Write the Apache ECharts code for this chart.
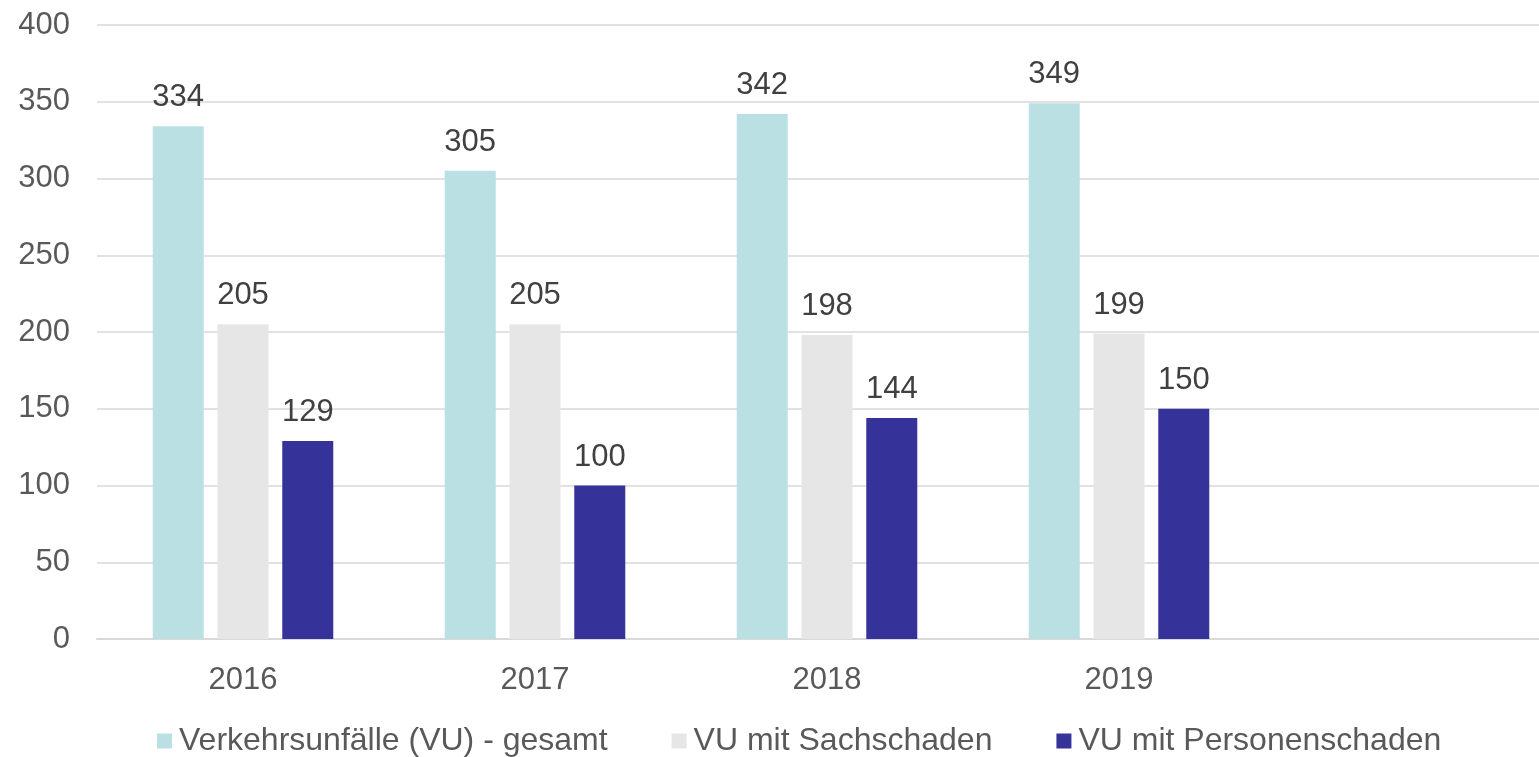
<!DOCTYPE html>
<html>
<head>
<meta charset="utf-8">
<script src="https://cdn.jsdelivr.net/npm/echarts@6/dist/echarts.min.js"></script>
<style>
html, body { margin: 0; padding: 0; background: #fff; }
#chart { width: 1539px; height: 757px; }
</style>
</head>
<body>
<div id="chart"></div>
<script>
// Daten
var jahre = ['2016', '2017', '2018', '2019', ''];
var gesamt = [334, 305, 342, 349, null];
var sachschaden = [205, 205, 198, 199, null];
var personenschaden = [129, 100, 144, 150, null];
var serienNamen = ['Verkehrsunfälle (VU) - gesamt', 'VU mit Sachschaden', 'VU mit Personenschaden'];
var farben = ['#bbe0e3', '#e6e6e6', '#353399'];

var schrift = 'Liberation Sans, Arial, sans-serif';
var chart = echarts.init(document.getElementById('chart'));

function balken(name, daten, farbe) {
    return {
        name: name,
        type: 'bar',
        data: daten,
        barWidth: 51,
        barGap: '27%',
        itemStyle: { color: farbe },
        label: {
            show: true,
            position: 'top',
            distance: 13,
            color: '#404040',
            fontSize: 31,
            fontFamily: schrift
        }
    }
}

chart.setOption({
    animation: false,
    color: farben,
    // das Raster reicht rechts etwas über den Bildrand hinaus
    grid: { left: 97, width: 1460, top: 25, bottom: 118, containLabel: false, outerBoundsMode: 'none' },
    legend: {
        left: 152,
        top: 720,
        itemWidth: 15,
        itemHeight: 15,
        itemGap: 64,
        icon: 'rect',
        textStyle: { fontSize: 32, color: '#595959', fontFamily: schrift, padding: [0, 0, 0, 2] },
        data: serienNamen
    },
    xAxis: {
        type: 'category',
        data: jahre,
        axisLine: { lineStyle: { color: '#d9d9d9', width: 2 } },
        axisTick: { show: false },
        axisLabel: { color: '#595959', fontSize: 31, fontFamily: schrift, margin: 26 }
    },
    yAxis: {
        type: 'value',
        min: 0,
        max: 400,
        interval: 50,
        axisLine: { show: false },
        axisTick: { show: false },
        splitLine: { lineStyle: { color: '#d9d9d9', width: 1.5 } },
        axisLabel: { color: '#595959', fontSize: 31, fontFamily: schrift, margin: 27 }
    },
    series: [
        balken(serienNamen[0], gesamt, farben[0]),
        balken(serienNamen[1], sachschaden, farben[1]),
        balken(serienNamen[2], personenschaden, farben[2])
    ]
});
</script>
</body>
</html>
